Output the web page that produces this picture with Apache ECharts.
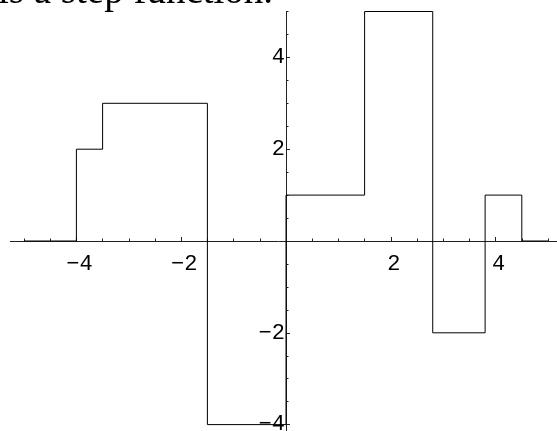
<!DOCTYPE html>
<html>
<head>
<meta charset="utf-8">
<script src="https://cdn.jsdelivr.net/npm/echarts@6/dist/echarts.min.js"></script>
<style>
  html, body { margin: 0; padding: 0; background: #fff; }
  #chart { width: 557px; height: 431px; }
</style>
</head>
<body>
<div id="chart"></div>
<script>
// step function: breakpoints (x) and the level held on each interval
const stepX = [-5, -4, -3.5, -1.5, 0, 1.5, 2.8, 3.8, 4.5, 5];
const stepY = [0, 2, 3, -4, 1, 5, -2, 1, 0];
const caption = 'is a step function.';

// build the staircase as [x, y] pairs
const points = [];
for (let i = 0; i < stepY.length; i++) {
  points.push([stepX[i], stepY[i]]);
  points.push([stepX[i + 1], stepY[i]]);
}

const fmt = function (v) {
  if (v === 0) return '';
  return v < 0 ? '\u2212' + Math.abs(v) : String(v);
};

const monoFont = '"Liberation Mono", "DejaVu Sans Mono", monospace';

// grid reaches past the canvas so that -6..6 ticks land where the picture has them
const gridLeft = -28.4, gridTop = -34.4, gridW = 628.8, gridH = 550.8;

const chart = echarts.init(document.getElementById('chart'));
chart.setOption({
  animation: false,
  backgroundColor: '#fff',
  grid: {
    left: gridLeft, top: gridTop, width: gridW, height: gridH,
    containLabel: false, outerBoundsMode: 'none'
  },
  xAxis: {
    type: 'value',
    min: -6, max: 6, interval: 2,
    axisLine: { onZero: true, lineStyle: { color: '#222', width: 1 } },
    axisTick: { inside: true, length: 4, lineStyle: { color: '#222' } },
    minorTick: { show: true, splitNumber: 4, length: 2.5, lineStyle: { color: '#222' } },
    splitLine: { show: false },
    axisLabel: {
      // labels stay at the grid edge, pull them back up to the zero line
      formatter: fmt, margin: 253 - (gridTop + gridH), padding: [0, 0, 0, 6],
      fontFamily: monoFont, fontSize: 22, color: '#000'
    }
  },
  yAxis: {
    type: 'value',
    min: -6, max: 6, interval: 2,
    axisLine: { onZero: true, lineStyle: { color: '#222', width: 1 } },
    axisTick: { inside: true, length: 4, lineStyle: { color: '#222' } },
    minorTick: { show: true, splitNumber: 4, length: 2.5, lineStyle: { color: '#222' } },
    splitLine: { show: false },
    axisLabel: {
      formatter: fmt, margin: gridLeft - 285,
      fontFamily: monoFont, fontSize: 22, color: '#000'
    }
  },
  graphic: [
    // trim the axis lines to the plot range
    { type: 'rect', z: 100, shape: { x: 0, y: 236, width: 10, height: 10 }, style: { fill: '#fff' } },
    { type: 'rect', z: 100, shape: { x: 280, y: 0, width: 12, height: 11 }, style: { fill: '#fff' } },
    {
      type: 'text', z: 101, x: -2, y: -7,
      style: {
        text: caption, fontFamily: '"Liberation Serif", serif', fontSize: 39, fill: '#000',
        textAlign: 'left', textVerticalAlign: 'middle'
      }
    }
  ],
  series: [{
    type: 'line',
    data: points,
    showSymbol: false,
    lineStyle: { color: '#000', width: 1 },
    clip: false
  }]
});
</script>
</body>
</html>
